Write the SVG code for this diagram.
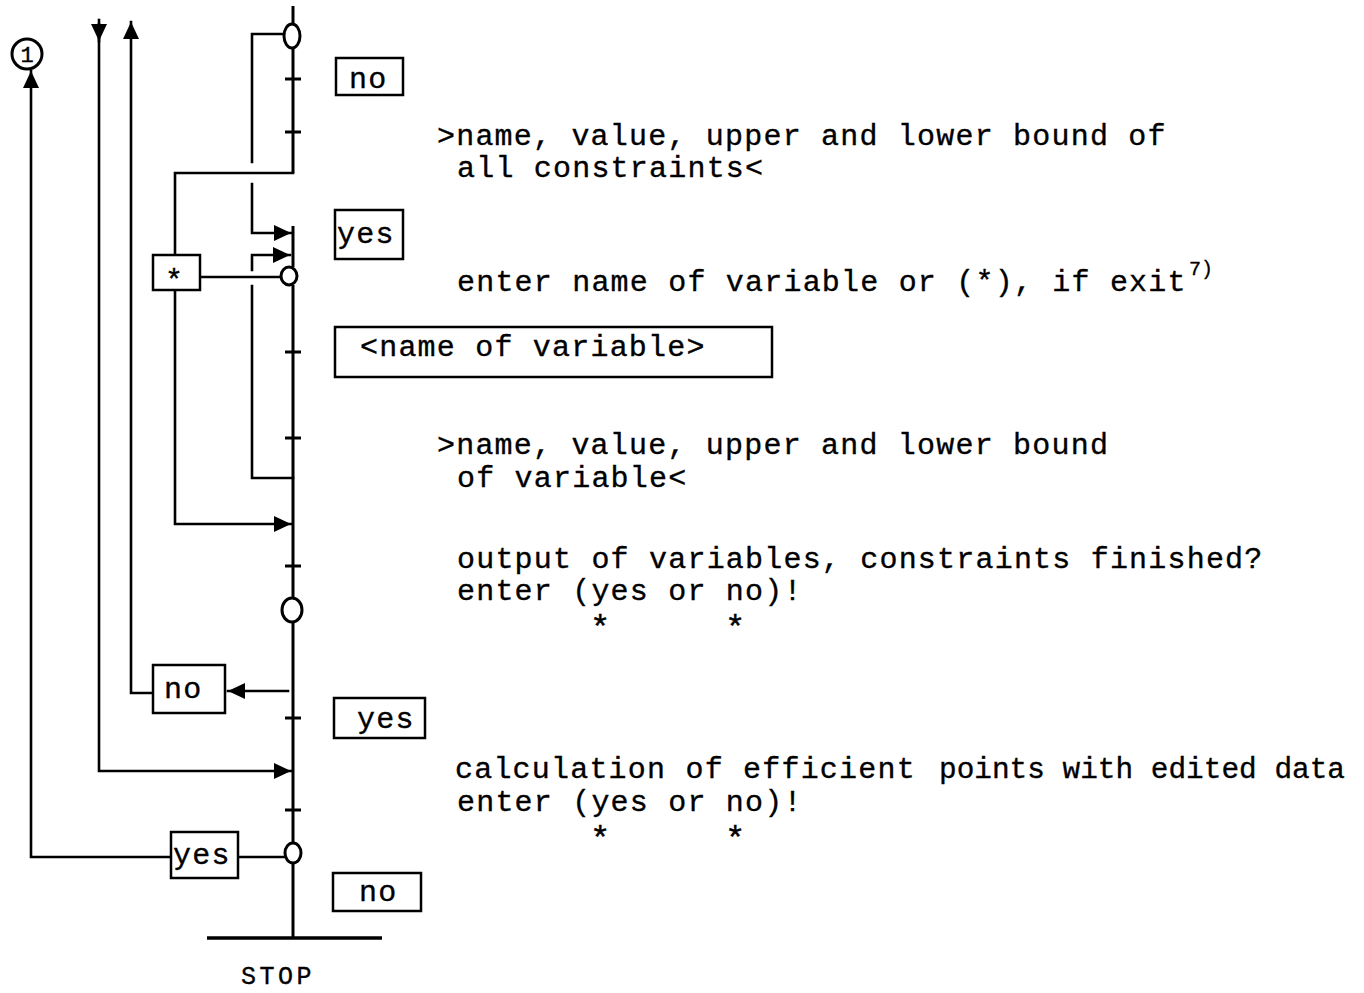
<svg xmlns="http://www.w3.org/2000/svg" width="1364" height="993" viewBox="0 0 1364 993">
<style>
.ln{fill:none;stroke:#000;stroke-width:2.6;stroke-linecap:square}
.sp{fill:none;stroke:#000;stroke-width:3}
.bx{fill:#fff;stroke:#000;stroke-width:2.5}
.nd{fill:#fff;stroke:#000;stroke-width:3}
.t{font-family:"Liberation Mono",monospace;font-size:30px;letter-spacing:1.2px;fill:#000;stroke:#000;stroke-width:0.35}
.s{font-family:"Liberation Mono",monospace;font-size:20px;fill:#000;stroke:#000;stroke-width:0.3}
.a{font-family:"Liberation Mono",monospace;font-size:34px;fill:#000;stroke:#000;stroke-width:0.4}
</style>
<defs>
<marker id="ah" viewBox="0 0 17 16" refX="17" refY="8" markerWidth="17" markerHeight="16" markerUnits="userSpaceOnUse" orient="auto">
<path d="M0,0 L17,8 L0,16 z" fill="#000"/>
</marker>
</defs>
<rect width="1364" height="993" fill="#fff"/>
<g id="connectors">
<path class="sp" d="M293,6 V24"/>
<path class="ln" d="M283,34 H252 V162"/>
<path class="ln" d="M252,184 V233 H291" marker-end="url(#ah)"/>
<path class="sp" d="M293,48 V173"/>
<path class="ln" d="M293,173 H175 V255"/>
<path class="ln" d="M175,290 V524 H291" marker-end="url(#ah)"/>
<path class="ln" d="M200,277 H281"/>
<path class="sp" d="M293,226 V267"/>
<path class="ln" d="M293,478 H252 V286"/>
<path class="ln" d="M252,270 V255 H290" marker-end="url(#ah)"/>
<path class="sp" d="M293,285 V598"/>
<path class="sp" d="M293,622 V843"/>
<path class="ln" d="M288,691 H228" marker-end="url(#ah)"/>
<path class="ln" d="M153,693 H131 V22" marker-end="url(#ah)"/>
<path class="ln" d="M99,24 V771 H291" marker-end="url(#ah)"/>
<path class="ln" d="M99,20 V41" marker-end="url(#ah)"/>
<path class="ln" d="M171,857 H31 V71" marker-end="url(#ah)"/>
<path class="ln" d="M238,857 H284"/>
<path class="sp" d="M293,863 V938"/>
<path class="sp" d="M285,79 H301 M285,132 H301 M285,352 H301 M285,438 H301 M285,566 H301 M285,718 H301 M285,810 H301"/>
</g>
<g id="stop">
<path d="M207,938 H382" stroke="#000" stroke-width="3.5" fill="none"/>
<text class="t" x="241" y="984" style="font-size:25px;letter-spacing:3.5px">STOP</text>
</g>
<g id="connector-1">
<circle class="nd" cx="27" cy="54" r="15"/>
<text x="27" y="62" text-anchor="middle" style="font-family:'Liberation Mono',monospace;font-size:22px;stroke:#000;stroke-width:0.4">1</text>
</g>
<g id="decision-top"><ellipse class="nd" cx="292" cy="36" rx="8" ry="12"/></g>
<g id="decision-var"><ellipse class="nd" cx="289" cy="276" rx="8" ry="9"/></g>
<g id="decision-output"><ellipse class="nd" cx="292" cy="610" rx="10" ry="12"/></g>
<g id="decision-calc"><ellipse class="nd" cx="293" cy="853" rx="8" ry="10"/></g>
<g id="box-no-1"><rect class="bx" x="336" y="58" width="67" height="37"/><text class="t" x="349" y="88">no</text></g>
<g id="text-constraints"><text class="t" x="437" y="145">&gt;name, value, upper and lower bound of</text><text class="t" x="457" y="177">all constraints&lt;</text></g>
<g id="box-yes-1"><rect class="bx" x="335" y="210" width="68" height="49"/><text class="t" x="337" y="243">yes</text></g>
<g id="text-enter-name"><text class="t" x="457" y="291">enter name of variable or (*), if exit</text><text class="s" x="1189" y="275">7)</text></g>
<g id="box-star"><rect class="bx" x="153" y="255" width="47" height="35"/><text class="t" x="165" y="290" style="letter-spacing:0">*</text></g>
<g id="box-name"><rect class="bx" x="335" y="327" width="437" height="50"/><text class="t" x="360" y="356">&lt;name of variable&gt;</text></g>
<g id="text-variable"><text class="t" x="437" y="454">&gt;name, value, upper and lower bound</text><text class="t" x="457" y="487">of variable&lt;</text></g>
<g id="text-output"><text class="t" x="457" y="568">output of variables, constraints finished?</text><text class="t" x="457" y="600">enter (yes or no)!</text><text class="a"><tspan x="590" y="638">*</tspan><tspan x="725" y="638">*</tspan></text></g>
<g id="box-no-2"><rect class="bx" x="153" y="665" width="72" height="48"/><text class="t" x="164" y="698">no</text></g>
<g id="box-yes-2"><rect class="bx" x="334" y="698" width="91" height="40"/><text class="t" x="357" y="728">yes</text></g>
<g id="text-calc"><text class="t" x="455" y="778">calculation of efficient</text><text class="t" x="939" y="778" style="letter-spacing:0" textLength="406" lengthAdjust="spacingAndGlyphs">points with edited data</text><text class="t" x="457" y="811">enter (yes or no)!</text><text class="a"><tspan x="590" y="849">*</tspan><tspan x="725" y="849">*</tspan></text></g>
<g id="box-yes-3"><rect class="bx" x="171" y="832" width="67" height="46"/><text class="t" x="173" y="864">yes</text></g>
<g id="box-no-3"><rect class="bx" x="333" y="873" width="88" height="38"/><text class="t" x="359" y="901">no</text></g>
</svg>
